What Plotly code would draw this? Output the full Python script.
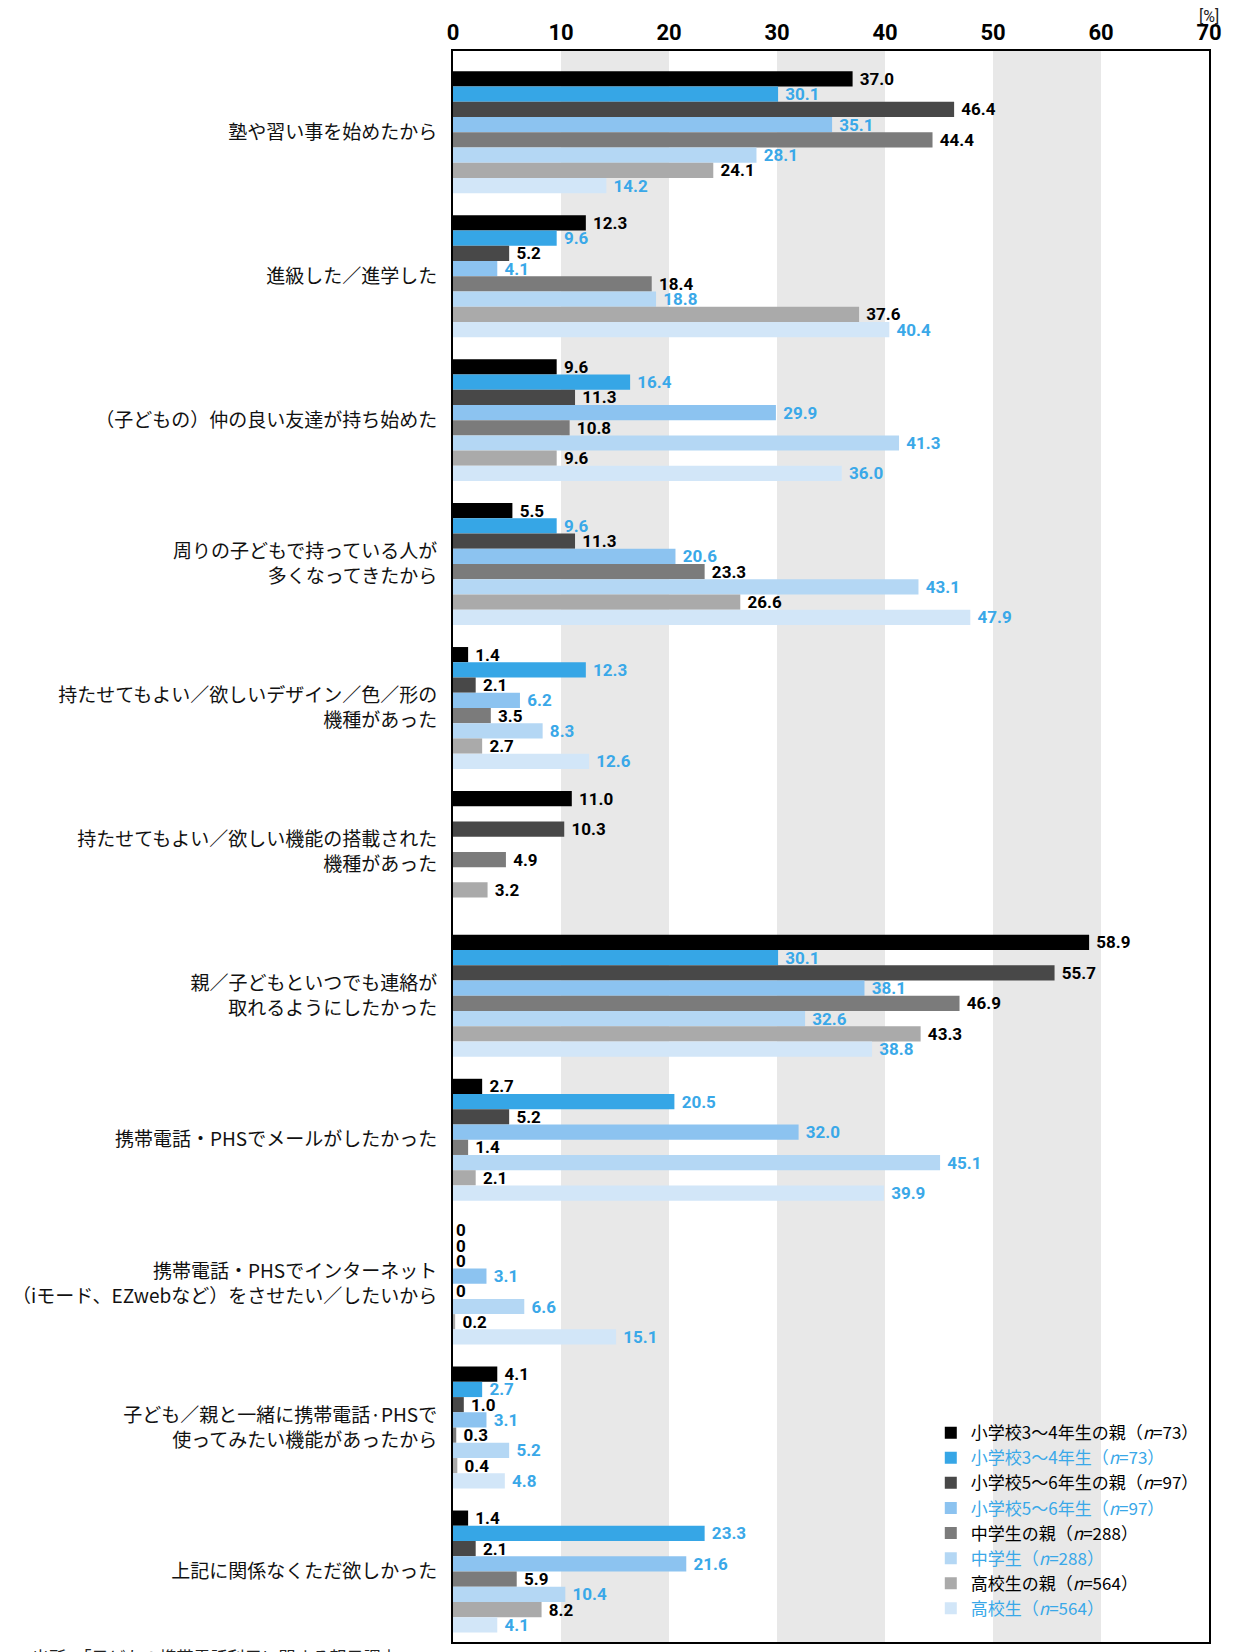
import plotly.graph_objects as go

categories = [
    "塾や習い事を始めたから",
    "進級した／進学した",
    "（子どもの）仲の良い友達が持ち始めた",
    "周りの子どもで持っている人が<br>多くなってきたから",
    "持たせてもよい／欲しいデザイン／色／形の<br>機種があった",
    "持たせてもよい／欲しい機能の搭載された<br>機種があった",
    "親／子どもといつでも連絡が<br>取れるようにしたかった",
    "携帯電話・PHSでメールがしたかった",
    "携帯電話・PHSでインターネット<br>（iモード、EZwebなど）をさせたい／したいから",
    "子ども／親と一緒に携帯電話·PHSで<br>使ってみたい機能があったから",
    "上記に関係なくただ欲しかった",
]

series_names = [
    "小学校3～4年生の親（<i>n</i>=73）",
    "小学校3～4年生（<i>n</i>=73）",
    "小学校5～6年生の親（<i>n</i>=97）",
    "小学校5～6年生（<i>n</i>=97）",
    "中学生の親（<i>n</i>=288）",
    "中学生（<i>n</i>=288）",
    "高校生の親（<i>n</i>=564）",
    "高校生（<i>n</i>=564）",
]
is_child = [False, True, False, True, False, True, False, True]

e34_parent = [37.0, 12.3, 9.6, 5.5, 1.4, 11.0, 58.9, 2.7, 0, 4.1, 1.4]
e34_child  = [30.1, 9.6, 16.4, 9.6, 12.3, None, 30.1, 20.5, 0, 2.7, 23.3]
e56_parent = [46.4, 5.2, 11.3, 11.3, 2.1, 10.3, 55.7, 5.2, 0, 1.0, 2.1]
e56_child  = [35.1, 4.1, 29.9, 20.6, 6.2, None, 38.1, 32.0, 3.1, 3.1, 21.6]
jh_parent  = [44.4, 18.4, 10.8, 23.3, 3.5, 4.9, 46.9, 1.4, 0, 0.3, 5.9]
jh_child   = [28.1, 18.8, 41.3, 43.1, 8.3, None, 32.6, 45.1, 6.6, 5.2, 10.4]
hs_parent  = [24.1, 37.6, 9.6, 26.6, 2.7, 3.2, 43.3, 2.1, 0.2, 0.4, 8.2]
hs_child   = [14.2, 40.4, 36.0, 47.9, 12.6, None, 38.8, 39.9, 15.1, 4.8, 4.1]
series_values = [e34_parent, e34_child, e56_parent, e56_child,
                 jh_parent, jh_child, hs_parent, hs_child]

x_ticks = [0, 10, 20, 30, 40, 50, 60, 70]

bar_colors = ["#000000", "#36A6E6", "#484848", "#8CC3F0",
              "#7B7B7B", "#B4D7F4", "#AAAAAA", "#D2E6F8"]
BLUE_TXT = "#3AA8E8"
NUM_FONT = "Roboto, Liberation Sans, sans-serif"
JP_FONT = "Noto Sans CJK JP, sans-serif"


def fmt(v):
    if v is None:
        return ""
    if v == 0:
        return "0"
    return "\u00a0" + f"{v:.1f}"


fig = go.Figure()
ypos = list(range(len(categories)))
for name, vals, col, child in zip(series_names, series_values, bar_colors, is_child):
    tcol = BLUE_TXT if child else "#000000"
    point_cols = [("#000000" if (v == 0 or not child) else BLUE_TXT) for v in vals]
    fig.add_trace(go.Bar(
        y=ypos, x=vals, orientation="h",
        name=f'<span style="color:{tcol}">{name}</span>',
        marker=dict(color=col, line=dict(width=0)),
        text=[fmt(v) for v in vals],
        textposition="outside",
        constraintext="none",
        cliponaxis=False,
        textfont=dict(family=NUM_FONT, size=17, color=point_cols, weight="bold"),
        hoverinfo="skip",
    ))

# alternating grey bands
for a, b in [(10, 20), (30, 40), (50, 60)]:
    fig.add_shape(type="rect", xref="x", yref="paper", x0=a, x1=b, y0=0, y1=1,
                  fillcolor="#E8E8E8", line=dict(width=0), layer="below")

fig.add_annotation(xref="x", yref="paper", x=70, y=1.0218, text="[%]",
                   showarrow=False, xanchor="center", yanchor="middle",
                   font=dict(family=NUM_FONT, size=16, color="#222222"))
fig.add_annotation(xref="paper", yref="paper", x=-0.56, y=0.0,
                   text="出所：「子どもの携帯電話利用に関する親子調査」",
                   showarrow=False, xanchor="left", yanchor="top",
                   font=dict(family=JP_FONT, size=17, color="#222222"))

fig.update_layout(
    width=1239, height=1652,
    margin=dict(l=445, r=38, t=43, b=18, autoexpand=False),
    paper_bgcolor="white", plot_bgcolor="white",
    barmode="group", bargap=0.153, bargroupgap=0,
    showlegend=True,
    legend=dict(x=0.632, y=0.01, xanchor="left", yanchor="bottom",
                bgcolor="rgba(0,0,0,0)", traceorder="normal",
                font=dict(family=JP_FONT, size=17, color="#000000"),
                itemclick=False, itemdoubleclick=False),
    xaxis=dict(side="top", range=[0, 70], tickvals=x_ticks,
               ticktext=[str(t) for t in x_ticks],
               showgrid=False, zeroline=False, ticks="", ticklen=0,
               showline=True, linecolor="#000000", linewidth=2, mirror=True,
               tickfont=dict(family=NUM_FONT, size=22, color="#000000", weight="bold"),
               fixedrange=True),
    yaxis=dict(range=[10.49, -0.565], tickvals=ypos, ticktext=categories,
               showgrid=False, zeroline=False, ticks="", ticklen=0,
               showline=True, linecolor="#000000", linewidth=2, mirror=True,
               ticklabelstandoff=10, automargin=False,
               tickfont=dict(family=JP_FONT, size=19, color="#111111"),
               fixedrange=True),
)

fig.write_html("out.html")
